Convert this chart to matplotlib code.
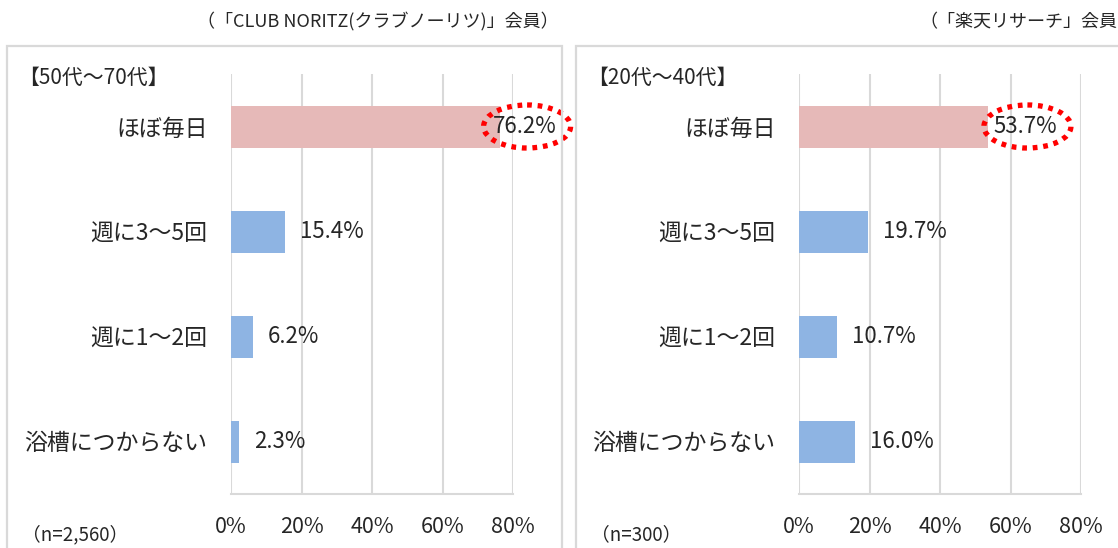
import matplotlib.pyplot as plt
from matplotlib.patches import Ellipse, Rectangle

plt.rcParams['font.family'] = ['Noto Sans CJK JP', 'DejaVu Sans']

categories = ["ほぼ毎日", "週に3～5回", "週に1～2回", "浴槽につからない"]
older = [76.2, 15.4, 6.2, 2.3]
younger = [53.7, 19.7, 10.7, 16.0]
ticks = [0, 20, 40, 60, 80]
tick_labels = ["0%", "20%", "40%", "60%", "80%"]

W, H = 1118, 548
fig = plt.figure(figsize=(W / 100, H / 100), dpi=100)

PINK = "#E6B9B8"
BLUE = "#8EB4E3"
GRID = "#D9D9D9"
TXT = "#262626"


def px_axes(x0, x1, y0, y1):
    # pixel box (top-left origin) -> figure axes
    return fig.add_axes([x0 / W, 1 - y1 / H, (x1 - x0) / W, (y1 - y0) / H])


def panel(x0, values, group, n_label, source, src_x, ell_x):
    # border of panel
    fig.patches.append(Rectangle((x0[0] / W, -0.1), (x0[1] - x0[0]) / W, 1 - 46 / H + 0.1,
                                 transform=fig.transFigure, fill=False,
                                 edgecolor=GRID, lw=1.6))
    ax = px_axes(x0[2], x0[3], 74, 494)
    y = range(len(categories))
    colors = [PINK] + [BLUE] * (len(values) - 1)
    ax.barh(y, values, height=0.4, color=colors, zorder=2)
    ax.set_xlim(0, 80)
    ax.set_ylim(3.5, -0.5)
    ax.set_xticks(ticks)
    ax.set_xticklabels(tick_labels, fontsize=15.5, color=TXT)
    ax.set_yticks(list(y))
    ax.set_yticklabels(categories, fontsize=16.5, color=TXT)
    ax.tick_params(axis='x', length=0, pad=16)
    ax.tick_params(axis='y', length=0, pad=17)
    ax.grid(axis='x', color=GRID, lw=1.5, zorder=1)
    for s in ["top", "left", "right"]:
        ax.spines[s].set_visible(False)
    ax.spines["bottom"].set_color(GRID)
    ax.spines["bottom"].set_linewidth(1.5)
    ax.set_facecolor("none")
    unit = 80 / (x0[3] - x0[2])
    for i, v in enumerate(values):
        if i == 0:
            ax.text(ell_x - 2 * unit, i, f"{v:.1f}%", ha='center', va='center',
                    fontsize=16, color=TXT, zorder=4)
            ax.add_patch(Ellipse((ell_x, i), 87 * unit, 0.41, fill=False,
                                 edgecolor="#FF0000", lw=3.8,
                                 linestyle=(0, (0.9, 1.1)), clip_on=False, zorder=5))
        else:
            ax.text(v + 15 * unit, i, f"{v:.1f}%", ha='left', va='center',
                    fontsize=16, color=TXT, zorder=4)
    fig.text((x0[0] + 11) / W, 1 - 78 / H, group, fontsize=15, color=TXT,
             va='center', ha='left')
    fig.text((x0[0] + 15) / W, 1 - 535 / H, n_label, fontsize=13.5, color=TXT,
             va='center', ha='left')
    fig.text(src_x / W, 1 - 22 / H, source, fontsize=13, color=TXT,
             va='center', ha='right')


panel((7, 562, 231, 513), older, "【50代～70代】", "（n=2,560）",
      "（「CLUB NORITZ(クラブノーリツ)」会員）", 559, 84.0)
panel((576, 1140, 799, 1081), younger, "【20代～40代】", "（n=300）",
      "（「楽天リサーチ」会員", 1117, 64.8)

fig.savefig("out.png", dpi=100)
